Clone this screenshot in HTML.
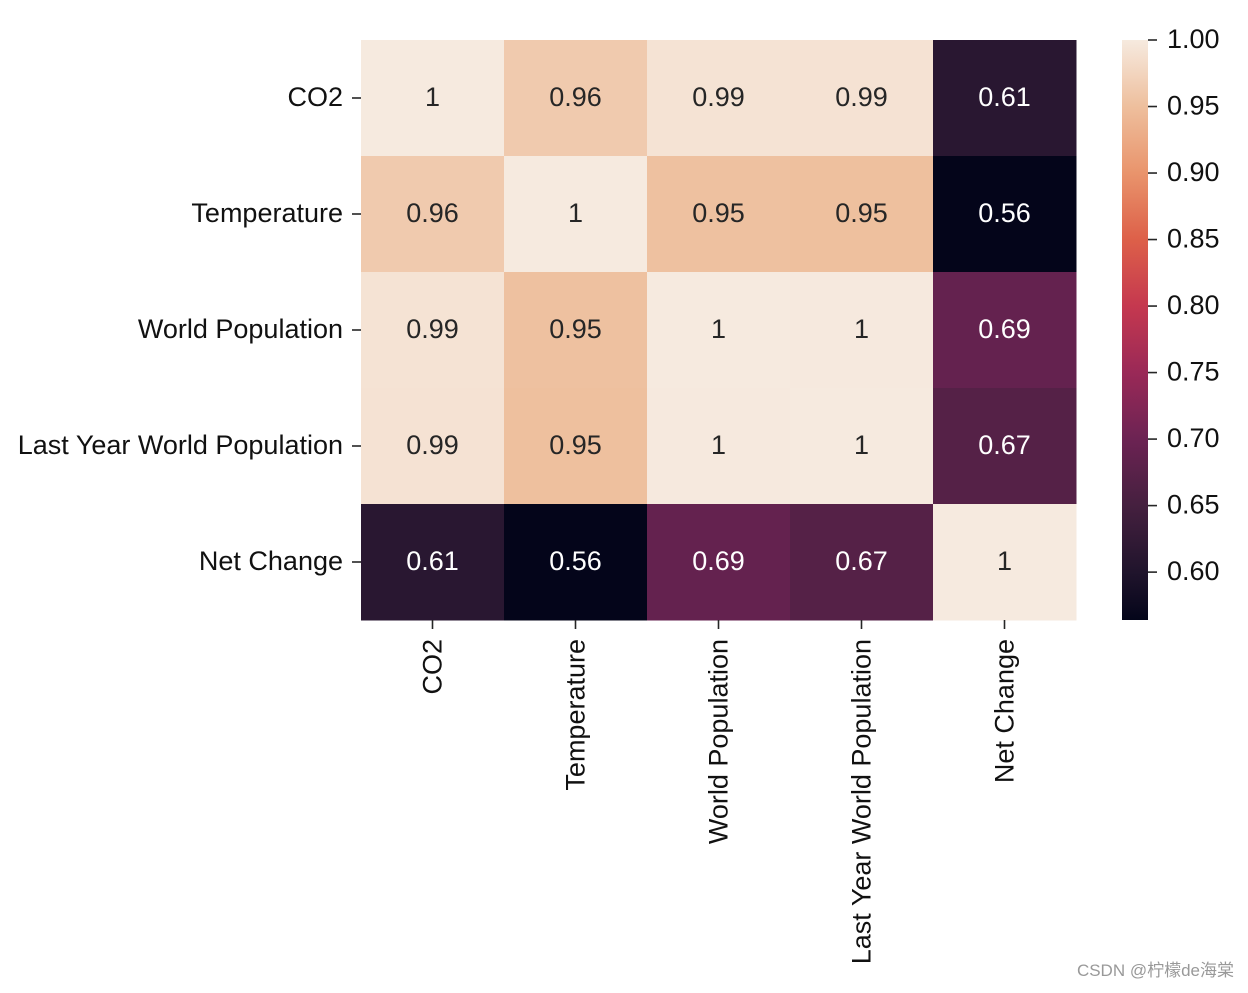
<!DOCTYPE html>
<html><head><meta charset="utf-8"><style>
body{margin:0;background:#fff;}
svg text{font-family:"Liberation Sans",Arial,sans-serif;}
</style></head><body>
<svg id="chart" width="1248" height="988">
<defs><linearGradient id="cbg" x1="0" y1="1" x2="0" y2="0"></linearGradient></defs>
<g id="cells"></g>
<g id="ylab"></g>
<g id="xlab"></g>
<g id="cbar"></g>
<text x="1234" y="976" text-anchor="end" font-size="17" fill="#999" style="font-family:'Liberation Sans','Noto Sans CJK SC',sans-serif">CSDN @柠檬de海棠</text>
</svg>
<script>
const categories=["CO2","Temperature","World Population","Last Year World Population","Net Change"];
const values=[
[1,0.963,0.992,0.991,0.612],
[0.963,1,0.952,0.951,0.564],
[0.992,0.952,1,0.999,0.690],
[0.991,0.951,0.999,1,0.670],
[0.612,0.564,0.690,0.670,1]];
const cbarTicks=[1.00,0.95,0.90,0.85,0.80,0.75,0.70,0.65,0.60];
const vmin=0.564,vmax=1.0;
const stopVals=[0.564,0.60,0.65,0.70,0.75,0.80,0.85,0.90,0.95,1.0];
const stopCols=["#04051a","#20142c","#45203f","#6c2353","#9a2957","#c5384f","#dd6049","#e9946c","#eebf9d","#f6eadf"];
function hex(h){return [1,3,5].map(i=>parseInt(h.substr(i,2),16));}
function cmap(v){v=Math.max(vmin,Math.min(vmax,v));for(let i=1;i<stopVals.length;i++){if(v<=stopVals[i]){const f=(v-stopVals[i-1])/(stopVals[i]-stopVals[i-1]);const c1=hex(stopCols[i-1]),c2=hex(stopCols[i]);return c1.map((x,k)=>Math.round(x+(c2[k]-x)*f));}}return hex(stopCols[stopCols.length-1]);}
const NS="http://www.w3.org/2000/svg";
function mk(tag,attrs,parent){const e=document.createElementNS(NS,tag);for(const k in attrs)e.setAttribute(k,attrs[k]);parent.appendChild(e);return e;}
const X0=361,Y0=40,W=715,H=580,n=categories.length,cw=W/n,ch=H/n,FS=27;
const xs=i=>X0+i*cw, ys=j=>Y0+j*ch;
const cells=document.getElementById('cells');
values.forEach((row,j)=>row.forEach((v,i)=>{
 const c=cmap(v);
 const r=mk('rect',{x:xs(i),y:ys(j),width:cw+0.5,height:ch+0.5,fill:`rgb(${c})`},cells);
 
 
 const lum=(0.299*c[0]+0.587*c[1]+0.114*c[2])/255;
 const t=mk('text',{x:xs(i)+cw/2,y:ys(j)+ch/2+8,'text-anchor':'middle','font-size':FS,fill:lum>0.5?'#262626':'#ffffff'},cells);
 t.textContent=(Math.round(v*100)/100).toString();
 
 
}));
const yl=document.getElementById('ylab'),xl=document.getElementById('xlab');
categories.forEach((c,j)=>{
 const cy=ys(j)+ch/2;
 mk('line',{x1:X0-9,x2:X0,y1:cy,y2:cy,stroke:'#262626','stroke-width':1.6},yl);
 const t=mk('text',{x:X0-18,y:cy+8,'text-anchor':'end','font-size':FS,fill:'#111'},yl);
 t.textContent=c;
 
 
 const cx=xs(j)+cw/2;
 mk('line',{x1:cx,x2:cx,y1:Y0+H,y2:Y0+H+9,stroke:'#262626','stroke-width':1.6},xl);
 const u=mk('text',{x:0,y:0,'text-anchor':'end','font-size':FS,fill:'#111',transform:`translate(${cx+9},${Y0+H+19}) rotate(-90)`},xl);
 u.textContent=c;
 
 
});
const cb=document.getElementById('cbar');
const CX=1122,CW=26,CY0=40,CH=580;
const g=document.querySelector('linearGradient');
stopVals.forEach((v,i)=>mk('stop',{offset:(v-vmin)/(vmax-vmin),'stop-color':stopCols[i]},g));
const cr=mk('rect',{x:CX,y:CY0,width:CW,height:CH,fill:'url(#cbg)'},cb);


const cyv=v=>CY0+CH*(vmax-v)/(vmax-vmin);
cbarTicks.forEach(v=>{
 const y=cyv(v);
 mk('line',{x1:CX+CW,x2:CX+CW+9,y1:y,y2:y,stroke:'#262626','stroke-width':1.6},cb);
 const t=mk('text',{x:CX+CW+19,y:y+8,'font-size':FS,fill:'#111'},cb);
 t.textContent=v.toFixed(2);
 
 
});
</script>
</body></html>
